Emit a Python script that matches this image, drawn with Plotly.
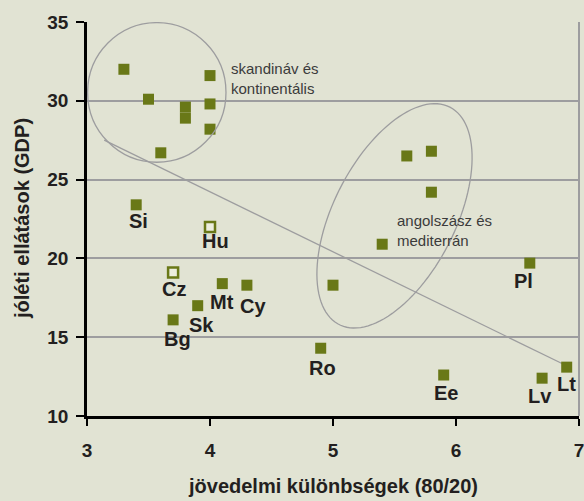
import numpy as np
import plotly.graph_objects as go

# nordic / continental cluster (unlabelled)
nordic_x = [3.3, 3.5, 3.6, 3.8, 3.8, 4.0, 4.0, 4.0]
nordic_y = [32.0, 30.1, 26.7, 29.6, 28.9, 31.6, 29.8, 28.2]

# anglo-saxon / mediterranean cluster (unlabelled)
anglo_x = [5.6, 5.8, 5.8, 5.4, 5.0]
anglo_y = [26.5, 26.8, 24.2, 20.9, 18.3]

# new member states (labelled)
new_names = ["Si", "Hu", "Cz", "Mt", "Cy", "Sk", "Bg", "Pl", "Ro", "Ee", "Lv", "Lt"]
new_x = [3.4, 4.0, 3.7, 4.1, 4.3, 3.9, 3.7, 6.6, 4.9, 5.9, 6.7, 6.9]
new_y = [23.4, 22.0, 19.1, 18.4, 18.3, 17.0, 16.1, 19.7, 14.3, 12.6, 12.4, 13.1]
hollow_names = ["Hu", "Cz"]

trend_x = [3.14, 6.87]
trend_y = [27.5, 13.3]

x_ticks = [3, 4, 5, 6, 7]
y_ticks = [10, 15, 20, 25, 30, 35]

BG = "#e1e3d3"
OLIVE = "#697817"
GRID = "#9d9d9f"
TXT = "#231f20"
FONT = "Liberation Sans, Arial, sans-serif"

W, H = 584, 501
M = dict(l=87, r=5, t=22, b=85)
px_x = (W - M["l"] - M["r"]) / 4
px_y = (H - M["t"] - M["b"]) / 25

# label offsets in pixels (dx right, dy down)
label_off = {
    "Si": (2, 16), "Hu": (5, 14), "Cz": (1, 16), "Mt": (0, 18), "Cy": (6, 21),
    "Sk": (4, 19), "Bg": (4, 19), "Pl": (-6, 18), "Ro": (2, 20), "Ee": (2, 18),
    "Lv": (-2, 18), "Lt": (0, 17),
}

fig = go.Figure()

fig.add_trace(go.Scatter(x=trend_x, y=trend_y, mode="lines",
                         line=dict(color=GRID, width=1.3), hoverinfo="skip"))

filled_x = nordic_x + anglo_x + [x for n, x in zip(new_names, new_x) if n not in hollow_names]
filled_y = nordic_y + anglo_y + [y for n, y in zip(new_names, new_y) if n not in hollow_names]
fig.add_trace(go.Scatter(x=filled_x, y=filled_y, mode="markers", cliponaxis=False,
                         marker=dict(symbol="square", size=11, color=OLIVE, line=dict(width=0))))

hx = [x for n, x in zip(new_names, new_x) if n in hollow_names]
hy = [y for n, y in zip(new_names, new_y) if n in hollow_names]
fig.add_trace(go.Scatter(x=hx, y=hy, mode="markers",
                         marker=dict(symbol="square", size=10, color="#eceede",
                                     line=dict(width=2.5, color=OLIVE))))

for n, x, y in zip(new_names, new_x, new_y):
    dx, dy = label_off[n]
    fig.add_annotation(x=x, y=y, text=n, showarrow=False, xshift=dx, yshift=-dy,
                       font=dict(family=FONT, size=20, color=TXT, weight="bold"))

# group outlines
fig.add_shape(type="circle", xref="x", yref="y", x0=3.005, x1=4.13, y0=26.1, y1=34.96,
              line=dict(color=GRID, width=1.3))

cx, cy, a, b, th = 5.50, 22.7, 122, 61, np.radians(63)
t = np.linspace(0, 2 * np.pi, 120)
ex = cx + (a * np.cos(t) * np.cos(th) - b * np.sin(t) * np.sin(th)) / px_x
ey = cy + (a * np.cos(t) * np.sin(th) + b * np.sin(t) * np.cos(th)) / px_y
path = "M " + " L ".join(f"{u:.4f},{v:.4f}" for u, v in zip(ex, ey)) + " Z"
fig.add_shape(type="path", xref="x", yref="y", path=path, line=dict(color=GRID, width=1.3))

fig.add_annotation(x=4.155, y=31.4, text="skandináv és<br>kontinentális", showarrow=False,
                   xanchor="left", yanchor="middle", align="left",
                   font=dict(family=FONT, size=15, color="#3b3b3b"))
fig.add_annotation(x=5.50, y=21.74, text="angolszász és<br>mediterrán", showarrow=False,
                   xanchor="left", yanchor="middle", align="left",
                   font=dict(family=FONT, size=15, color="#3b3b3b"))

# right frame
fig.add_shape(type="line", xref="paper", yref="paper", x0=1, x1=1, y0=0, y1=1,
              line=dict(color=GRID, width=2))

fig.add_annotation(xref="paper", yref="paper", x=0.5, y=0, yshift=-70, text="jövedelmi különbségek (80/20)",
                   showarrow=False, yanchor="middle",
                   font=dict(family=FONT, size=20, color=TXT, weight="bold"))
fig.add_annotation(xref="paper", yref="paper", x=0, y=0.5, xshift=-65, text="jóléti ellátások (GDP)",
                   showarrow=False, xanchor="center", textangle=-90,
                   font=dict(family=FONT, size=20, color=TXT, weight="bold"))

fig.update_layout(
    width=W, height=H, margin=M, showlegend=False,
    paper_bgcolor=BG, plot_bgcolor=BG,
    font=dict(family=FONT, color=TXT),
)
fig.update_xaxes(range=[3, 7], tickvals=x_ticks, showgrid=False, zeroline=False, automargin=False,
                 showline=True, linecolor="black", linewidth=2.5,
                 ticks="outside", ticklen=7, tickwidth=2, tickcolor="black",
                 ticklabelstandoff=8, ticklabeloverflow="allow",
                 tickfont=dict(family=FONT, size=19, color=TXT, weight="bold"))
fig.update_yaxes(range=[10, 35], tickvals=y_ticks, showgrid=True, gridcolor=GRID, gridwidth=2,
                 zeroline=False, showline=True, linecolor="black", linewidth=2.5, automargin=False,
                 ticks="outside", ticklen=8, tickwidth=2, tickcolor="black",
                 ticklabelstandoff=4,
                 tickfont=dict(family=FONT, size=19, color=TXT, weight="bold"))

# the page body has a default 8px margin; remove it so the figure sits at the top-left corner
fig.write_html("out.html", config={"displayModeBar": False},
               post_script="document.body.style.margin='0';"
                           "document.body.style.overflow='hidden';"
                           f"document.body.style.background='{BG}';")
